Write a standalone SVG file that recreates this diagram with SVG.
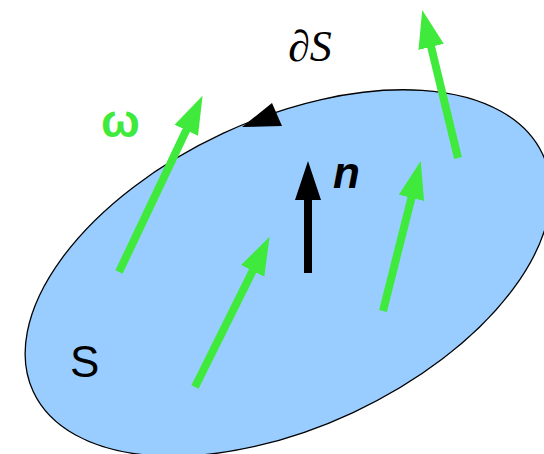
<svg xmlns="http://www.w3.org/2000/svg" width="544" height="454" viewBox="0 0 544 454">
  <style>
    .vec { stroke: #40EA3C; stroke-width: 8; fill: none; }
    .nvec { stroke: #000; stroke-width: 8; fill: none; }
    .lbl { font-family: "Liberation Sans", "DejaVu Sans", sans-serif; }
  </style>
  <defs>
    <marker id="gh" markerUnits="userSpaceOnUse" markerWidth="40" markerHeight="30" viewBox="0 -15 40 30" refX="1" refY="0" orient="auto">
      <path d="M0,-13 L38,0 L0,13 z" fill="#40EA3C"/>
    </marker>
    <marker id="bh" markerUnits="userSpaceOnUse" markerWidth="40" markerHeight="30" viewBox="0 -15 40 30" refX="1" refY="0" orient="auto">
      <path d="M0,-13 L39,0 L0,13 z" fill="#000"/>
    </marker>
  </defs>
  <g id="surface">
    <ellipse cx="288" cy="273" rx="281" ry="154" transform="rotate(-25 288 273)" fill="#99CCFF" stroke="#000" stroke-width="1.3"/>
    <polygon points="242,127 272,103 282,126" fill="#000"/>
  </g>
  <g id="connectors">
    <line class="vec" x1="119" y1="272" x2="186.7" y2="129.3" marker-end="url(#gh)"/>
    <line class="vec" x1="195" y1="387" x2="253.1" y2="270" marker-end="url(#gh)"/>
    <line class="vec" x1="383" y1="311" x2="411.7" y2="196.9" marker-end="url(#gh)"/>
    <line class="vec" x1="458" y1="158" x2="430.9" y2="45.9" marker-end="url(#gh)"/>
    <line class="nvec" x1="308" y1="273" x2="308" y2="199" marker-end="url(#bh)"/>
  </g>
  <g id="labels">
    <text x="288" y="61" font-family="'Liberation Serif', 'DejaVu Serif', serif" font-size="44">∂<tspan font-style="italic">S</tspan></text>
    <text class="lbl" x="101" y="137" font-size="46" font-weight="bold" fill="#40EA3C">ω</text>
    <text class="lbl" x="333" y="188" font-size="44" font-weight="bold" font-style="italic">n</text>
    <text class="lbl" x="70" y="377" font-size="44">S</text>
  </g>
</svg>
